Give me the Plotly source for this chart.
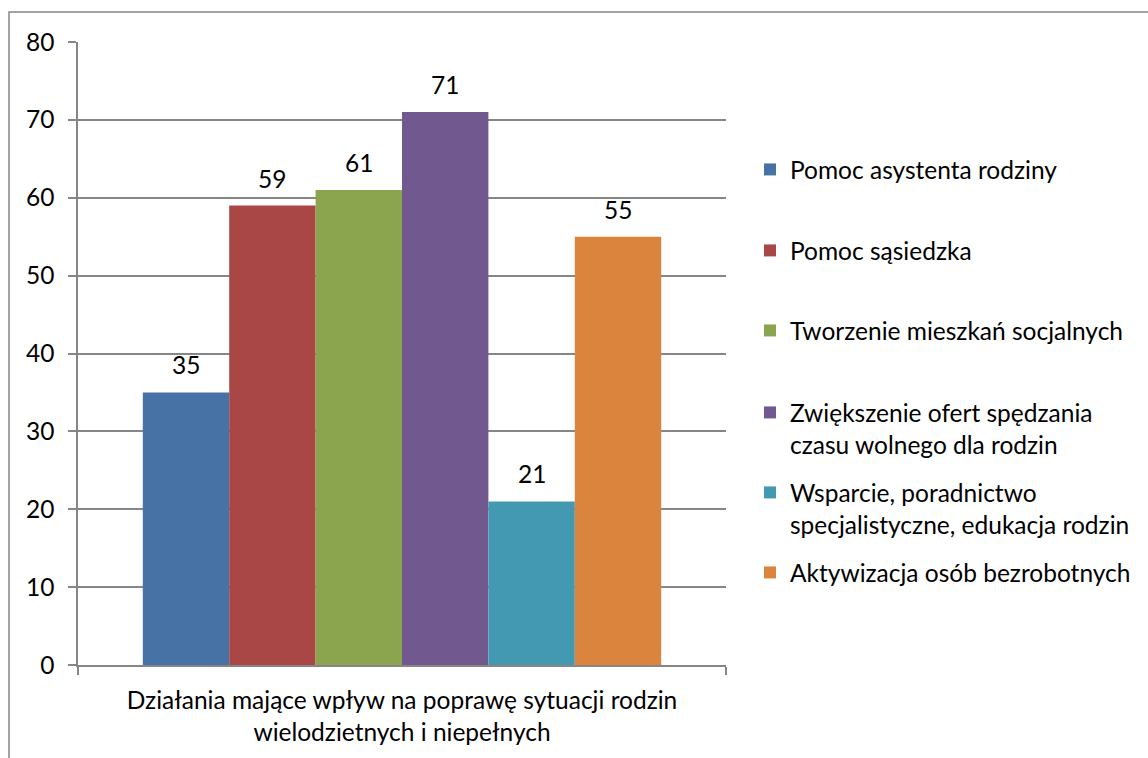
import plotly.graph_objects as go

category = "Działania mające wpływ na poprawę sytuacji rodzin<br>wielodzietnych i niepełnych"
series_names = [
    "Pomoc asystenta rodziny",
    "Pomoc sąsiedzka",
    "Tworzenie mieszkań socjalnych",
    "Zwiększenie ofert spędzania<br>czasu wolnego dla rodzin",
    "Wsparcie, poradnictwo<br>specjalistyczne, edukacja rodzin",
    "Aktywizacja osób bezrobotnych",
]
values = [35, 59, 61, 71, 21, 55]
colors = ["#4672A6", "#A94747", "#8AA54E", "#71588F", "#4299B1", "#DB843D"]
y_ticks = [0, 10, 20, 30, 40, 50, 60, 70, 80]

FONT = "Lato"
FS = 24.5
W, H = 1148, 758
L, R, T, B = 78, 726, 42, 665  # plot area pixels
pw, ph = R - L, B - T

def px_x(x):
    return (x - L) / pw

def px_y(y):
    return (B - y) / ph

fig = go.Figure()
n = len(values)
group_w = 0.8
for i, (name, v, c) in enumerate(zip(series_names, values, colors)):
    leg = "legend" if i == 0 else f"legend{i+1}"
    fig.add_trace(go.Bar(
        x=[category], y=[v], name=name, marker=dict(color=c, line=dict(width=0)),
        legend=leg, hoverinfo="skip",
    ))
    fig.add_annotation(
        x=-group_w / 2 + (i + 0.5) * group_w / n, y=v, xref="x", yref="y",
        text=str(v), showarrow=False, yanchor="bottom", yshift=11,
        font=dict(family=FONT, size=FS, color="#000000"),
    )

symbol_centers = [170, 251, 331, 413, 493, 573]
legend_x = px_x(750)
layout_legends = {}
for i, yc in enumerate(symbol_centers):
    key = "legend" if i == 0 else f"legend{i+1}"
    layout_legends[key] = dict(
        x=legend_x, y=px_y(yc - 23), xanchor="left", yanchor="top",
        font=dict(family=FONT, size=FS, color="#000000"),
        bgcolor="rgba(0,0,0,0)", borderwidth=0, valign="top",
        itemclick=False, itemdoubleclick=False,
    )

fig.update_layout(
    width=W, height=H,
    margin=dict(l=L, r=W - R, t=T, b=H - B, pad=0, autoexpand=False),
    paper_bgcolor="white", plot_bgcolor="white",
    barmode="group", bargap=0.2, bargroupgap=0,
    showlegend=True,
    font=dict(family=FONT, size=FS, color="#000000"),
    xaxis=dict(
        type="category", showgrid=False, showline=True, linecolor="#868686", linewidth=1.5,
        ticks="outside", ticklen=8, tickwidth=1.5, tickcolor="#868686", tickson="boundaries",
        tickfont=dict(family=FONT, size=FS, color="#000000"), ticklabelstandoff=13,
        fixedrange=True, automargin=False,
    ),
    yaxis=dict(
        range=[0, 80], tickvals=y_ticks, showgrid=True, gridcolor="#868686", gridwidth=1.5,
        zeroline=False, showline=True, linecolor="#868686", linewidth=1.5,
        ticks="outside", ticklen=8, tickwidth=1.5, tickcolor="#868686",
        tickfont=dict(family=FONT, size=FS, color="#000000"), ticklabelstandoff=9,
        fixedrange=True, automargin=False,
    ),
    shapes=[dict(
        type="rect", xref="paper", yref="paper",
        x0=px_x(9), x1=px_x(W + 20), y0=px_y(H + 20), y1=px_y(12),
        line=dict(color="#868686", width=1.5), fillcolor="rgba(0,0,0,0)", layer="below",
    )],
    **layout_legends,
)

fig.write_html(
    "out.html",
    config={"displayModeBar": False},
    post_script="document.body.style.margin='0';document.body.style.overflow='hidden';",
)
